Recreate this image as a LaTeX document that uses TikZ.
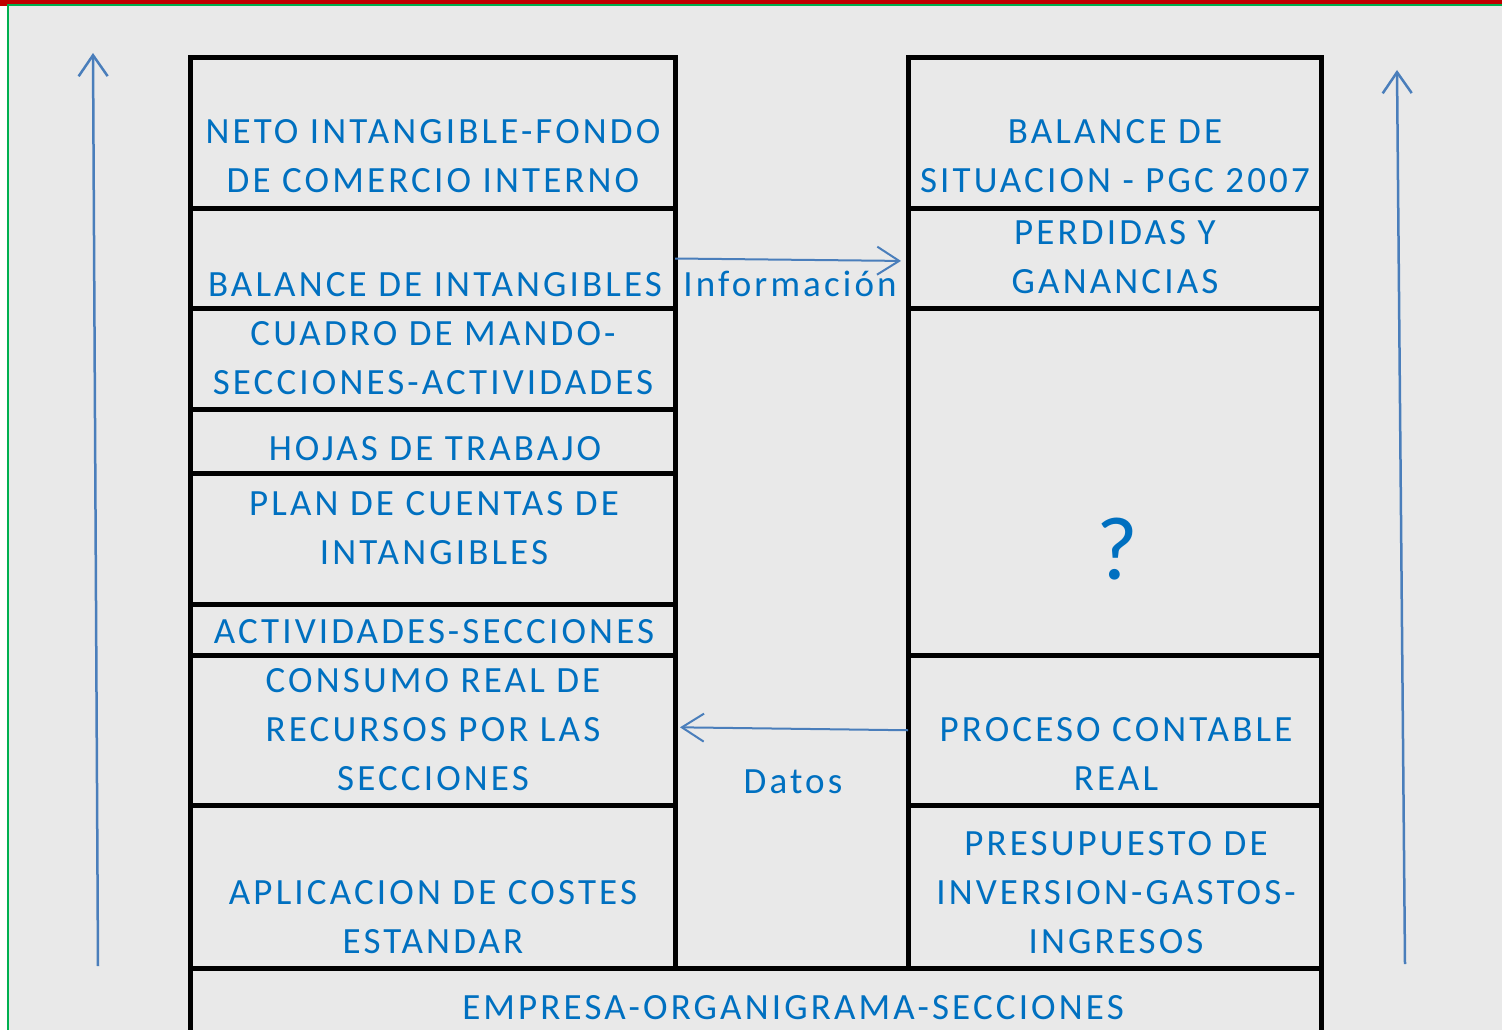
\documentclass[tikz,border=0pt]{standalone}
\usepackage{fontspec}
\setmainfont{Carlito}[LetterSpace=8.5]
\usetikzlibrary{arrows.meta}
\definecolor{txtblue}{RGB}{0,112,192}
\definecolor{arrblue}{RGB}{74,126,187}
\definecolor{bg}{RGB}{233,233,233}
\definecolor{topred}{RGB}{192,0,0}
\definecolor{edgegreen}{RGB}{0,176,80}
\begin{document}
\begin{tikzpicture}[x=1pt,y=-1pt,
 cell/.style={draw=black, line width=5pt, rectangle, inner sep=0pt, outer sep=0pt, anchor=north west},
 lbl/.style={text=txtblue, font=\fontsize{37}{49}\selectfont, align=center, anchor=base, inner sep=0pt},
 flow/.style={draw=arrblue, line width=2pt, -{Straight Barb[length=22pt,width=28pt]}},
 updir/.style={draw=arrblue, line width=2.5pt, -{Straight Barb[length=21pt,width=29pt]}}]
\useasboundingbox (0,0) rectangle (1502,1030);
% background and frame
\fill[white] (0,0) rectangle (1502,1030);
\fill[bg] (9,6) rectangle (1502,1030);
\fill[topred] (0,0) rectangle (1502,4.5);
\fill[topred] (0,0) rectangle (7,6.5);
\draw[edgegreen, line width=1.6pt] (8.2,1030) -- (8.2,5.3) -- (1502,5.3);
% left column
\node[cell, minimum width=484.5pt, minimum height=151pt] (l1) at (190.5,57.5) {};
\node[cell, minimum width=484.5pt, minimum height=100pt] (l2) at (190.5,208.5) {};
\node[cell, minimum width=484.5pt, minimum height=101pt] (l3) at (190.5,308.5) {};
\node[cell, minimum width=484.5pt, minimum height=64pt] (l4) at (190.5,409.5) {};
\node[cell, minimum width=484.5pt, minimum height=131pt] (l5) at (190.5,473.5) {};
\node[cell, minimum width=484.5pt, minimum height=51pt] (l6) at (190.5,604.5) {};
\node[cell, minimum width=484.5pt, minimum height=149.5pt] (l7) at (190.5,655.5) {};
\node[cell, minimum width=484.5pt, minimum height=163.5pt] (l8) at (190.5,805) {};
% right column
\node[cell, minimum width=413pt, minimum height=151pt] (r1) at (908,57.5) {};
\node[cell, minimum width=413pt, minimum height=100pt] (r2) at (908,208.5) {};
\node[cell, minimum width=413pt, minimum height=347pt] (r3) at (908,308.5) {};
\node[cell, minimum width=413pt, minimum height=149.5pt] (r4) at (908,655.5) {};
\node[cell, minimum width=413pt, minimum height=163.5pt] (r5) at (908,805) {};
% bottom
\node[cell, minimum width=1130.5pt, minimum height=90pt] (bot) at (190.5,968.5) {};
% texts left (base = last line baseline)
\node[lbl] (t1) at (433,192.5) {NETO INTANGIBLE-FONDO\\DE COMERCIO INTERNO};
\node[lbl] (t2) at (435,296.5) {BALANCE DE INTANGIBLES};
\node[lbl] (t3) at (433,394.5) {CUADRO DE MANDO-\\SECCIONES-ACTIVIDADES};
\node[lbl] (t4) at (435,460.5) {HOJAS DE TRABAJO};
\node[lbl] (t5) at (434,564.5) {PLAN DE CUENTAS DE\\INTANGIBLES};
\node[lbl] (t6) at (434,643.5) {ACTIVIDADES-SECCIONES};
\node[lbl] (t7) at (433,790.5) {CONSUMO REAL DE\\RECURSOS POR LAS\\SECCIONES};
\node[lbl] (t8) at (433,953.5) {APLICACION DE COSTES\\ESTANDAR};
% texts right
\node[lbl] (u1) at (1115,192.5) {BALANCE DE\\SITUACION - PGC 2007};
\node[lbl] (u2) at (1115,293.5) {PERDIDAS Y\\GANANCIAS};
\node[lbl, font=\fontsize{90}{100}\selectfont] (u3) at (1117,579) {?};
\node[lbl] (u4) at (1116,790.5) {PROCESO CONTABLE\\REAL};
\node[lbl] (u5) at (1116,953.5) {PRESUPUESTO DE\\INVERSION-GASTOS-\\INGRESOS};
\node[lbl] (b1) at (793,1019.5) {EMPRESA-ORGANIGRAMA-SECCIONES};
\node[lbl] (info) at (790,296.5) {Información};
\node[lbl] (dat) at (793,793.5) {Datos};
% connectors
\draw[flow, shorten >=7pt] (l2.east) -- ([yshift=-2.5pt]r2.west);
\draw[flow, shorten >=5pt] (r4.west) -- ([yshift=3pt]l7.east);
\coordinate (la0) at (98,966);
\coordinate (la1) at (93,53);
\coordinate (ra0) at (1405,964);
\coordinate (ra1) at (1397,70);
\draw[updir] (la0) -- (la1);
\draw[updir] (ra0) -- (ra1);
\end{tikzpicture}
\end{document}
